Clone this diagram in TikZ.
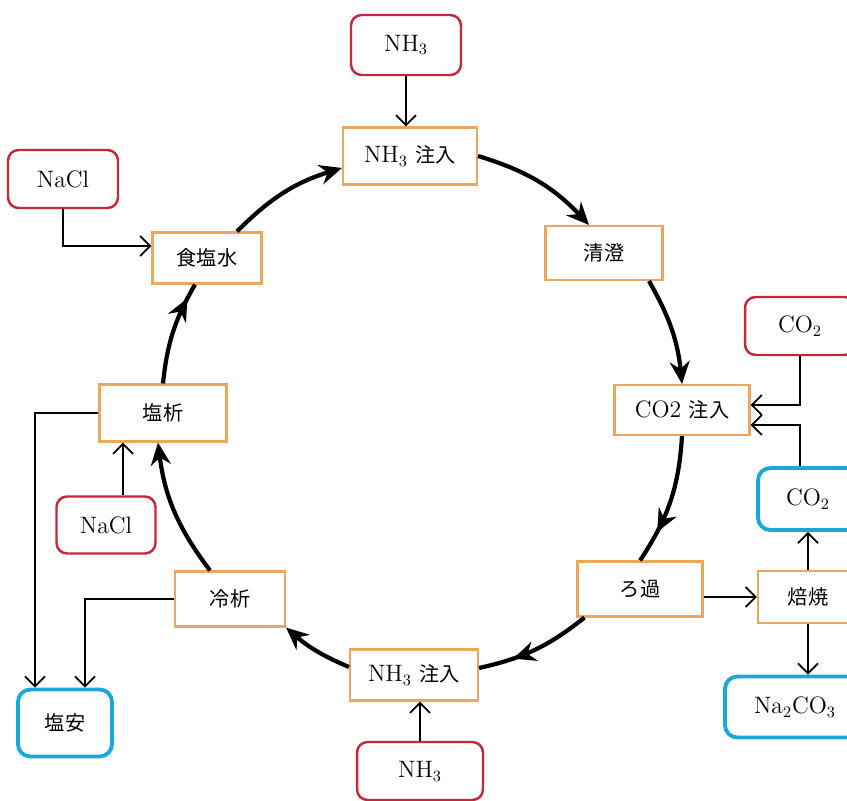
\documentclass[tikz,border=0pt]{standalone}
\usepackage{fontspec}
\newfontfamily\jp[Scale=0.85]{Noto Sans CJK JP}
\usetikzlibrary{arrows.meta,decorations.markings,calc}
\definecolor{feedred}{HTML}{C4283C}
\definecolor{boxorange}{HTML}{EDA660}
\definecolor{prodblue}{HTML}{1AA8D8}

\begin{document}
\begin{tikzpicture}[x=0.02cm, y=-0.02cm,
    every node/.style={font=\fontsize{13.5}{16}\selectfont, align=center},
    feed/.style={draw=feedred, line width=1.4pt, rounded corners=6pt, fill=white},
    proc/.style={draw=boxorange, line width=1.2pt, fill=white},
    prod/.style={draw=prodblue, line width=2.2pt, rounded corners=7pt, fill=white},
    feedarrow/.style={line width=1pt, -{Straight Barb[length=2mm, width=4mm]}},
    cycle/.style={line width=2.4pt, -{Stealth[length=4.5mm, width=4mm, inset=1.5mm]}},
    midcycle/.style={line width=2.4pt, postaction={decorate}, decoration={markings,
        mark=at position #1 with {\arrow{Stealth[length=4.5mm, width=4mm, inset=1.5mm]}}}}]
    \useasboundingbox (0,0) rectangle (847,800);

    % Nodes
    \node[feed, minimum width=2.2cm, minimum height=1.2cm] (nhTop) at (406,45) {NH$_3$};
    \node[proc, minimum width=2.68cm, minimum height=1.14cm] (injTop) at (410,156) {NH$_3$ {\jp 注入}};
    \node[feed, minimum width=2.2cm, minimum height=1.16cm] (naclTop) at (63,179) {NaCl};
    \node[proc, minimum width=2.18cm, minimum height=1.02cm] (brine) at (207,258) {\jp 食塩水};
    \node[proc, minimum width=2.34cm, minimum height=1.08cm] (clarify) at (604,253) {\jp 清澄};
    \node[feed, minimum width=2.2cm, minimum height=1.16cm] (co2In) at (800,326) {CO$_2$};
    \node[proc, minimum width=2.7cm, minimum height=1.0cm] (co2Inj) at (682,410) {CO2 {\jp 注入}};
    \node[prod, minimum width=2.0cm, minimum height=1.24cm] (co2Back) at (808,499) {CO$_2$};
    \node[proc, minimum width=2.5cm, minimum height=1.1cm] (filt) at (640,589) {\jp ろ過};
    \node[proc, minimum width=2.0cm, minimum height=1.04cm] (calc) at (808,597) {\jp 焙焼};
    \node[prod, minimum width=2.8cm, minimum height=1.22cm] (soda) at (795,707) {Na$_2$CO$_3$};
    \node[proc, minimum width=2.56cm, minimum height=1.02cm] (injBot) at (414,675) {NH$_3$ {\jp 注入}};
    \node[feed, minimum width=2.52cm, minimum height=1.16cm] (nhBot) at (420,771) {NH$_3$};
    \node[proc, minimum width=2.2cm, minimum height=1.1cm] (cool) at (230,599) {\jp 冷析};
    \node[proc, minimum width=2.54cm, minimum height=1.14cm] (saltOut) at (163,413) {\jp 塩析};
    \node[feed, minimum width=1.98cm, minimum height=1.14cm] (naclMid) at (106,525) {NaCl};
    \node[prod, minimum width=1.88cm, minimum height=1.34cm] (ammon) at (65,723) {\jp 塩安};

    % Feed and product arrows
    \draw[feedarrow] (nhTop) -- (nhTop |- injTop.north);
    \draw[feedarrow] (naclTop.south) |- ($(brine.west)+(0,-12)$);
    \draw[feedarrow] (co2In.south) |- ($(co2Inj.east)+(0,-5)$);
    \draw[feedarrow] (co2Back.north -| co2In.south) |- ($(co2Inj.east)+(0,15)$);
    \draw[feedarrow] (filt.east |- calc) -- (calc);
    \draw[feedarrow] (calc) -- (co2Back);
    \draw[feedarrow] (calc) -- (calc |- soda.north);
    \draw[feedarrow] (nhBot) -- (nhBot |- injBot.south);
    \coordinate (naclUp) at ($(naclMid.north)+(17,0)$);
    \draw[feedarrow] (naclUp) -- (naclUp |- saltOut.south);
    \draw[feedarrow] (saltOut.west) -| ($(ammon.north)+(-30,0)$);
    \draw[feedarrow] (cool.west) -| ($(ammon.north)+(20,0)$);

    % Cycle
    \draw[cycle] (injTop.east) to[bend left=15] ($(clarify.north)+(-15,0)$);
    \draw[cycle] ($(clarify.south)+(45,0)$) to[bend left=12] (co2Inj.north);
    \draw[midcycle=0.75] (co2Inj.south) to[bend left=15] (filt.north);
    \draw[midcycle=0.7] ($(filt.south west)+(8,0)$) to[bend left=13] ($(injBot.east)+(0,-7)$);
    \draw[cycle] ($(injBot.west)+(0,-8)$) to[bend left=9] (cool.south east);
    \draw[cycle] ($(cool.north)+(-20,0)$) to[bend left=15] ($(saltOut.south)+(-5,0)$);
    \draw[midcycle=0.85] (saltOut.north) to[bend left=12] ($(brine.south)+(-12,0)$);
    \draw[cycle] ($(brine.north)+(30,0)$) to[bend left=14] ($(injTop.west)+(0,12)$);
\end{tikzpicture}
\end{document}
